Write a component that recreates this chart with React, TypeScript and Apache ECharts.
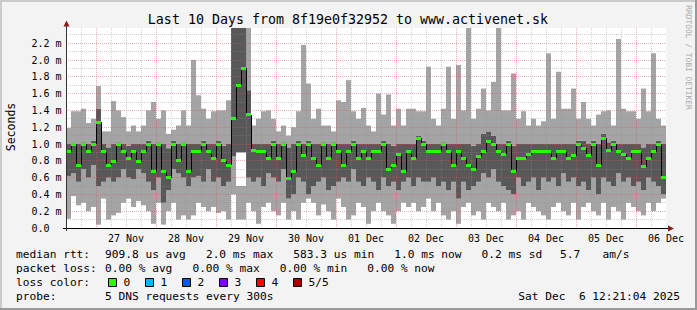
import React, { useEffect, useRef } from 'react';
import * as echarts from 'echarts';

// ---- data (values in milliseconds), 120 buckets of 2 hours each ----
const dayLabels = ['27 Nov', '28 Nov', '29 Nov', '30 Nov', '01 Dec', '02 Dec', '03 Dec', '04 Dec', '05 Dec', '06 Dec'];

const smokeMax = [
  1.19, 1.39, 1.39, 1.42, 1.25, 1.30, 1.69, 1.15, 1.15, 1.51, 1.40, 1.32,
  1.15, 1.22, 1.15, 1.22, 1.40, 1.50, 1.30, 1.40, 1.12, 1.17, 1.22, 1.40,
  1.22, 2.00, 1.58, 1.42, 1.30, 1.39, 1.40, 1.40, 1.52, 2.60, 2.60, 2.60,
  2.60, 1.22, 1.30, 1.39, 1.40, 1.30, 1.15, 1.22, 1.10, 1.20, 1.39, 2.18,
  1.72, 1.30, 1.42, 1.22, 1.22, 1.15, 1.52, 1.50, 1.76, 1.39, 1.30, 1.43,
  1.22, 1.15, 1.60, 1.35, 1.59, 1.22, 1.42, 1.22, 1.42, 1.42, 1.39, 1.39,
  1.92, 1.30, 1.22, 1.42, 1.92, 1.30, 1.94, 1.40, 2.60, 1.30, 1.42, 1.66,
  1.40, 1.74, 2.60, 1.40, 1.40, 1.84, 1.30, 1.39, 1.22, 1.30, 1.22, 1.27,
  2.08, 1.30, 1.86, 1.42, 1.42, 1.66, 1.30, 1.50, 1.30, 1.22, 1.35, 1.39,
  1.40, 1.22, 2.25, 1.42, 1.39, 1.39, 1.30, 1.66, 1.39, 2.08, 1.30, 1.22,
];

const smokeUpper = [
  1.0, 1.0, 1.0, 1.02, 1.0, 1.04, 1.42, 1.0, 0.96, 1.0, 1.02, 1.0,
  0.98, 1.0, 1.0, 1.0, 1.04, 1.0, 1.02, 1.0, 0.95, 1.04, 1.0, 1.02,
  1.0, 1.0, 1.0, 1.04, 1.0, 1.0, 1.04, 0.98, 1.0, 2.60, 2.60, 2.60,
  1.64, 1.0, 1.0, 1.0, 1.0, 1.04, 1.0, 1.02, 0.96, 1.0, 1.04, 1.0,
  1.04, 1.0, 1.0, 1.02, 1.0, 1.02, 1.0, 1.0, 1.0, 1.04, 1.0, 1.0,
  1.0, 1.0, 1.0, 1.04, 1.0, 0.98, 1.0, 1.0, 1.0, 1.0, 1.10, 1.04,
  1.0, 1.0, 1.0, 1.02, 1.0, 1.0, 1.0, 1.0, 1.0, 0.98, 1.0, 1.12,
  1.15, 1.10, 1.0, 1.0, 1.04, 0.98, 1.0, 1.0, 1.0, 1.0, 1.0, 1.0,
  1.0, 1.0, 1.0, 1.0, 1.0, 1.0, 1.04, 1.04, 1.0, 1.04, 1.0, 1.12,
  1.02, 1.04, 1.0, 1.0, 1.0, 1.0, 1.0, 0.96, 1.0, 1.0, 1.04, 1.0,
];

const medianRtt = [
  0.91, 1.0, 0.75, 1.0, 0.91, 1.0, 1.26, 0.91, 0.75, 0.79, 1.0, 0.91,
  0.83, 0.91, 0.79, 0.91, 1.0, 0.67, 1.0, 0.67, 0.60, 1.0, 0.80, 1.0,
  0.67, 0.91, 0.91, 1.0, 0.91, 0.83, 1.0, 0.80, 0.75, 1.30, 1.70, 1.90,
  1.35, 0.92, 0.91, 0.91, 0.83, 1.0, 0.83, 1.0, 0.59, 0.67, 1.0, 0.86,
  1.0, 0.83, 0.75, 1.0, 0.83, 1.0, 0.91, 0.75, 0.91, 1.0, 0.83, 0.91,
  0.83, 0.91, 0.91, 1.0, 0.70, 0.75, 0.88, 0.67, 0.91, 0.83, 1.07, 1.0,
  0.91, 0.91, 0.91, 1.0, 0.91, 0.75, 0.91, 0.83, 0.75, 0.70, 0.85, 0.91,
  1.03, 1.0, 0.91, 0.88, 1.0, 0.67, 0.83, 0.83, 0.87, 0.91, 0.91, 0.91,
  0.91, 0.83, 0.91, 0.91, 0.83, 0.86, 1.0, 0.95, 0.86, 1.0, 0.75, 1.07,
  0.92, 1.0, 0.91, 0.88, 0.83, 0.91, 0.91, 0.73, 0.83, 0.91, 1.0, 0.60,
];

const smokeLower = [
  0.62, 0.65, 0.55, 0.70, 0.60, 0.75, 0.50, 0.55, 0.60, 0.55, 0.60, 0.70,
  0.60, 0.58, 0.70, 0.65, 0.55, 0.45, 0.60, 0.30, 0.45, 0.70, 0.65, 0.60,
  0.50, 0.60, 0.62, 0.55, 0.70, 0.55, 0.60, 0.50, 0.55, 0.85, 0.90, 0.90,
  0.60, 0.55, 0.60, 0.50, 0.65, 0.60, 0.55, 0.70, 0.35, 0.40, 0.60, 0.55,
  0.40, 0.50, 0.55, 0.60, 0.45, 0.50, 0.55, 0.60, 0.55, 0.70, 0.55, 0.50,
  0.60, 0.55, 0.45, 0.60, 0.50, 0.55, 0.45, 0.55, 0.60, 0.50, 0.60, 0.55,
  0.55, 0.60, 0.50, 0.55, 0.45, 0.55, 0.35, 0.55, 0.45, 0.50, 0.55, 0.65,
  0.60, 0.70, 0.55, 0.50, 0.45, 0.40, 0.60, 0.50, 0.55, 0.60, 0.45, 0.60,
  0.55, 0.60, 0.50, 0.65, 0.55, 0.60, 0.50, 0.55, 0.45, 0.60, 0.40, 0.60,
  0.55, 0.50, 0.65, 0.55, 0.60, 0.50, 0.55, 0.45, 0.60, 0.55, 0.50, 0.40,
];

const smokeMin = [
  0.11, 0.38, 0.27, 0.30, 0.20, 0.25, 0.04, 0.35, 0.10, 0.15, 0.18, 0.30,
  0.35, 0.25, 0.32, 0.27, 0.20, 0.05, 0.30, 0.04, 0.20, 0.30, 0.10, 0.15,
  0.10, 0.15, 0.30, 0.25, 0.20, 0.25, 0.18, 0.20, 0.10, 0.40, 0.10, 0.10,
  0.30, 0.20, 0.05, 0.25, 0.30, 0.20, 0.15, 0.30, 0.10, 0.20, 0.10, 0.30,
  0.35, 0.30, 0.15, 0.28, 0.20, 0.10, 0.35, 0.25, 0.10, 0.15, 0.30, 0.25,
  0.05, 0.20, 0.30, 0.20, 0.15, 0.05, 0.20, 0.30, 0.25, 0.30, 0.20, 0.25,
  0.35, 0.20, 0.30, 0.15, 0.10, 0.20, 0.05, 0.25, 0.30, 0.15, 0.20, 0.10,
  0.30, 0.25, 0.20, 0.30, 0.10, 0.15, 0.20, 0.10, 0.30, 0.25, 0.20, 0.15,
  0.10, 0.25, 0.30, 0.20, 0.15, 0.30, 0.10, 0.25, 0.30, 0.20, 0.15, 0.30,
  0.10, 0.25, 0.20, 0.10, 0.30, 0.25, 0.20, 0.15, 0.30, 0.20, 0.30, 0.35,
];

// buckets where the lower light smoke stops short of the dark band: [bucket, top of lower smoke]
const smokeGap: Array<[number, number]> = [[34, 0.5], [35, 0.5]];

const titleText = 'Last 10 Days from 8f19e0f32952 to www.activenet.sk';
const rttLabel = 'median rtt:';
const rttStats = ['909.8 us avg', '2.0 ms max', '583.3 us min', '1.0 ms now', '0.2 ms sd', '5.7', 'am/s'];
const lossLabel = 'packet loss:';
const lossStats = ['0.00 % avg', '0.00 % max', '0.00 % min', '0.00 % now'];
const lossColorLabel = 'loss color:';
const lossNames = ['0', '1', '2', '3', '4', '5/5'];
const lossColors = ['#26ff00', '#00b8ff', '#0059ff', '#7e00ff', '#ff0000', '#a10000'];
const probeLabel = 'probe:';
const probeText = '5 DNS requests every 300s';
const stampParts = ['Sat Dec', '6 12:21:04 2025'];

// ---- layout ----
const W = 697;
const H = 310;
const GRID_LEFT = 66;
const GRID_TOP = 28;
const GRID_W = 600;
const GRID_H = 200;
const Y_MAX = GRID_H / 84; // 0.2 ms = 16.8 px
const HOURS = 240;
const FONT = '"DejaVu Sans Mono", monospace';
const LEG_FONT = `11.2px ${FONT}`;
const CH = 6.74; // monospace advance of the legend font
const MINOR = 'rgba(143,143,143,0.4)';
const MAJOR = 'rgba(224,80,80,0.45)';
const LIGHT = '#a4a4a4';
const DARK = '#585858';

const rttX = [105, 205.9, 293.3, 394.2, 481.6, 560, 602.5];
const lossX = [105, 192.4, 279.8, 367.2];
const boxX = [108.5, 145.5, 182.5, 219.5, 256.5, 293.5];
const ROWS = [254.5, 268.5, 282.5, 296.5];

export default function App() {
  const ref = useRef<HTMLDivElement>(null);

  useEffect(() => {
    if (!ref.current) return;
    const chart = echarts.init(ref.current, undefined, { renderer: 'svg' });

    const gapMap = new Map<number, number>(smokeGap);
    const cats = medianRtt.map((_, i) => String(i));
    const lowLight = smokeMin.map((lo, i) => (gapMap.has(i) ? (gapMap.get(i) as number) : smokeLower[i]) - lo);
    const gapPart = smokeLower.map((d1, i) => (gapMap.has(i) ? d1 - (gapMap.get(i) as number) : 0));
    const darkPart = smokeUpper.map((d2, i) => d2 - smokeLower[i]);
    const highLight = smokeMax.map((h, i) => h - smokeUpper[i]);

    const vGrid: number[][] = [];
    for (let h = 6; h < HOURS; h += 6) vGrid.push([h, 0, (h - 12) % 24 === 0 ? 1 : 0]);
    const hGrid: number[][] = [];
    for (let k = 1; k <= 23; k++) hGrid.push([0, k / 10, k % 2 === 0 ? 1 : 0]);

    const bar = (name: string, data: number[], color: string) => ({
      name,
      type: 'bar',
      stack: 'smoke',
      xAxisIndex: 0,
      yAxisIndex: 0,
      data,
      barWidth: '100%',
      barCategoryGap: '0%',
      clip: true,
      silent: true,
      z: 2,
      itemStyle: { color },
      emphasis: { disabled: true },
    });

    const txt = (x: number, y: number, text: string, extra: any = {}) => ({
      type: 'text',
      x,
      y,
      silent: true,
      z: 50,
      style: {
        text,
        font: LEG_FONT,
        fill: '#000',
        textAlign: 'left',
        textVerticalAlign: 'middle',
        ...extra,
      },
    });

    const graphics: any[] = [
      // frame
      { type: 'rect', silent: true, z: 40, shape: { x: 0, y: 0, width: W, height: 2 }, style: { fill: '#cbcbcb' } },
      { type: 'rect', silent: true, z: 40, shape: { x: 0, y: 0, width: 2, height: H }, style: { fill: '#cbcbcb' } },
      { type: 'rect', silent: true, z: 41, shape: { x: 0, y: H - 2, width: W, height: 2 }, style: { fill: '#999999' } },
      { type: 'rect', silent: true, z: 41, shape: { x: W - 2, y: 0, width: 2, height: H }, style: { fill: '#999999' } },
      // axes
      { type: 'line', silent: true, z: 45, shape: { x1: GRID_LEFT - 3, y1: GRID_TOP + GRID_H + 0.5, x2: GRID_LEFT + GRID_W + 3, y2: GRID_TOP + GRID_H + 0.5 }, style: { stroke: '#000', lineWidth: 1 } },
      { type: 'line', silent: true, z: 45, shape: { x1: GRID_LEFT + 0.5, y1: GRID_TOP + GRID_H + 3, x2: GRID_LEFT + 0.5, y2: GRID_TOP - 3 }, style: { stroke: '#333', lineWidth: 1 } },
      { type: 'polygon', silent: true, z: 46, shape: { points: [[GRID_LEFT + 0.5, GRID_TOP - 7.5], [GRID_LEFT - 2.5, GRID_TOP - 1.5], [GRID_LEFT + 3.5, GRID_TOP - 1.5]] }, style: { fill: '#8b1a1a' } },
      { type: 'polygon', silent: true, z: 46, shape: { points: [[GRID_LEFT + GRID_W + 8, GRID_TOP + GRID_H + 0.5], [GRID_LEFT + GRID_W + 2, GRID_TOP + GRID_H - 2.5], [GRID_LEFT + GRID_W + 2, GRID_TOP + GRID_H + 3.5]] }, style: { fill: '#8b1a1a' } },
      // titles
      txt(348, 19, titleText, { font: `13.3px ${FONT}`, textAlign: 'center' }),
      { ...txt(11, 127, 'Seconds', { textAlign: 'center', font: `11.5px ${FONT}` }), rotation: Math.PI / 2 },
      { ...txt(688.5, 57.5, 'RRDTOOL / TOBI OETIKER', { textAlign: 'center', font: `7.9px ${FONT}`, fill: '#aaaaaa' }), rotation: -Math.PI / 2 },
      // legend rows
      txt(16, ROWS[0], rttLabel),
      ...rttStats.map((s, i) => txt(rttX[i], ROWS[0], s)),
      txt(16, ROWS[1], lossLabel),
      ...lossStats.map((s, i) => txt(lossX[i], ROWS[1], s)),
      txt(16, ROWS[2], lossColorLabel),
      ...lossColors.map((c, i) => ({
        type: 'rect',
        silent: true,
        z: 50,
        shape: { x: boxX[i], y: ROWS[2] - 4, width: 8, height: 8 },
        style: { fill: c, stroke: '#000', lineWidth: 1 },
      })),
      ...lossNames.map((s, i) => txt(boxX[i] + 15, ROWS[2], s)),
      txt(16, ROWS[3], probeLabel),
      txt(105, ROWS[3], probeText),
      txt(680 - 24 * CH, ROWS[3], stampParts[0]),
      txt(680 - 15 * CH, ROWS[3], stampParts[1]),
    ];

    const option: any = {
      animation: false,
      backgroundColor: '#f3f3f3',
      textStyle: { fontFamily: FONT },
      grid: {
        left: GRID_LEFT,
        top: GRID_TOP,
        width: GRID_W,
        height: GRID_H,
        show: true,
        backgroundColor: '#ffffff',
        borderWidth: 0,
        containLabel: false,
        outerBoundsMode: 'none',
      },
      xAxis: [
        {
          type: 'category',
          data: cats,
          show: false,
          position: 'top',
          boundaryGap: true,
        },
        {
          type: 'value',
          position: 'bottom',
          min: 0,
          max: HOURS,
          interval: 24,
          axisLine: { show: false },
          axisTick: { show: false },
          splitLine: { show: false },
          axisLabel: {
            show: true,
            margin: 5,
            color: '#000',
            fontSize: 10,
            fontFamily: FONT,
            showMinLabel: true,
            showMaxLabel: true,
            formatter: (v: number) => {
              const k = Math.round(v / 24);
              return k >= 1 && k <= dayLabels.length ? dayLabels[k - 1] : '';
            },
          },
        },
      ],
      yAxis: {
        type: 'value',
        min: 0,
        max: Y_MAX,
        interval: 0.2,
        axisLine: { show: false },
        axisTick: { show: false },
        splitLine: { show: false },
        axisLabel: {
          align: 'left',
          margin: GRID_LEFT - 31.5,
          color: '#000',
          fontSize: 10,
          fontFamily: FONT,
          formatter: (v: number) => {
            if (Math.abs(v * 5 - Math.round(v * 5)) > 1e-6) return '';
            return v < 1e-9 ? '0.0' : v.toFixed(1) + ' m';
          },
        },
      },
      series: [
        bar('base', smokeMin, 'rgba(0,0,0,0)'),
        bar('smokeLow', lowLight, LIGHT),
        bar('gap', gapPart, 'rgba(0,0,0,0)'),
        bar('smokeInner', darkPart, DARK),
        bar('smokeHigh', highLight, LIGHT),
        {
          name: 'vgrid',
          type: 'custom',
          xAxisIndex: 1,
          yAxisIndex: 0,
          silent: true,
          z: 3,
          data: vGrid,
          encode: { x: 0, y: 1 },
          renderItem: (params: any, api: any) => {
            const cs = params.coordSys;
            const x = Math.floor(api.coord([api.value(0), 0])[0]) + 0.5;
            return {
              type: 'line',
              shape: { x1: x, y1: cs.y, x2: x, y2: cs.y + cs.height },
              style: { stroke: api.value(2) ? MAJOR : MINOR, lineWidth: 1, lineDash: [1, 1] },
            };
          },
        },
        {
          name: 'hgrid',
          type: 'custom',
          xAxisIndex: 1,
          yAxisIndex: 0,
          silent: true,
          z: 3,
          data: hGrid,
          encode: { x: 0, y: 1 },
          renderItem: (params: any, api: any) => {
            const cs = params.coordSys;
            const y = Math.floor(api.coord([0, api.value(1)])[1]) + 0.5;
            return {
              type: 'line',
              shape: { x1: cs.x, y1: y, x2: cs.x + cs.width, y2: y },
              style: { stroke: api.value(2) ? MAJOR : MINOR, lineWidth: 1, lineDash: [1, 1] },
            };
          },
        },
        {
          name: 'median',
          type: 'custom',
          xAxisIndex: 0,
          yAxisIndex: 0,
          silent: true,
          z: 4,
          data: medianRtt.map((v, i) => [i, v]),
          encode: { x: 0, y: 1 },
          renderItem: (params: any, api: any) => {
            const i = api.value(0);
            const v = api.value(1);
            const p = api.coord([i, v]);
            const bw = api.size([1, 0])[0];
            const left = Math.round(p[0] - bw / 2);
            const children: any[] = [];
            if (i > 0) {
              const q = api.coord([i - 1, medianRtt[i - 1]]);
              children.push({
                type: 'line',
                shape: { x1: left + 0.5, y1: Math.round(q[1]), x2: left + 0.5, y2: Math.round(p[1]) },
                style: { stroke: '#000', lineWidth: 1 },
              });
            }
            children.push({
              type: 'rect',
              shape: { x: left, y: Math.round(p[1] - 1.5), width: Math.round(bw), height: 3 },
              style: { fill: '#26ff00' },
            });
            return { type: 'group', children };
          },
        },
      ],
      graphic: graphics,
    };

    chart.setOption(option);
    return () => chart.dispose();
  }, []);

  return <div ref={ref} style={{ position: 'absolute', left: 0, top: 0, width: W, height: H }} />;
}
